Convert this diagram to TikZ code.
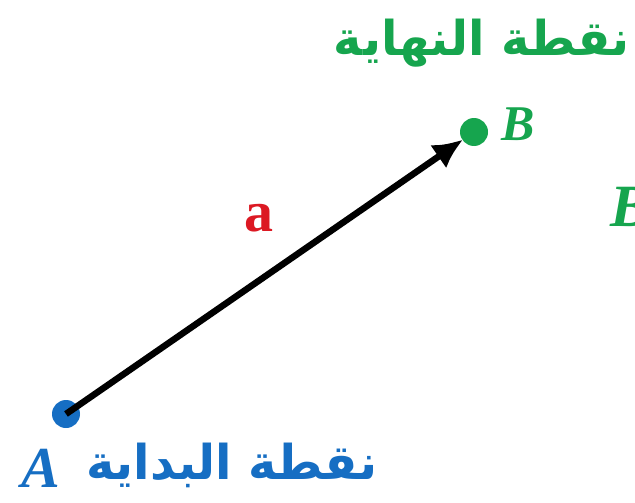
\documentclass[tikz,border=0pt]{standalone}
\usepackage{fontspec}
\setmainfont{Liberation Serif}
\newfontfamily\arabicfont[Script=Arabic]{DejaVu Sans}
\TeXXeTstate=1
\usetikzlibrary{arrows.meta}
\definecolor{ptgreen}{RGB}{22,165,78}
\definecolor{ptblue}{RGB}{22,110,195}
\definecolor{vecred}{RGB}{220,25,35}
\tikzset{
  dotA/.style={circle,fill=ptblue,inner sep=0pt,minimum size=28pt},
  dotB/.style={circle,fill=ptgreen,inner sep=0pt,minimum size=28pt},
  ptlabel/.style={font=\fontsize{50}{50}\selectfont\bfseries\itshape,inner sep=0pt},
  arlabel/.style={font=\fontsize{48}{54}\selectfont\arabicfont\bfseries,inner sep=0pt},
  vec/.style={line width=6.5pt,-{Latex[length=30pt,width=28pt]},shorten >=-1pt}
}
\begin{document}
\begin{tikzpicture}[x=1pt,y=-1pt]
\useasboundingbox (0,0) rectangle (635,503);
\clip (0,0) rectangle (635,503);
\node[dotA] (A) at (66,414) {};
\node[dotB] (B) at (474,132) {};
\draw[vec] (A.center) -- (B);
\node[font=\fontsize{58}{58}\selectfont\bfseries,text=vecred,inner sep=0pt] (a) at (259,218) {a};
\node[ptlabel,text=ptgreen] (Blab) at (518,124) {B};
\node[ptlabel,text=ptblue,font=\fontsize{58}{58}\selectfont\bfseries\itshape] (Alab) at (41,468) {A};
\node[arlabel,text=ptgreen] (end) at (482,43) {\beginR نقطة النهاية\endR};
\node[arlabel,text=ptblue] (start) at (232,465) {\beginR نقطة البداية\endR};
\node[ptlabel,text=ptgreen,anchor=west,font=\fontsize{60}{60}\selectfont\bfseries\itshape] (E) at (610,207) {B};
\end{tikzpicture}
\end{document}
